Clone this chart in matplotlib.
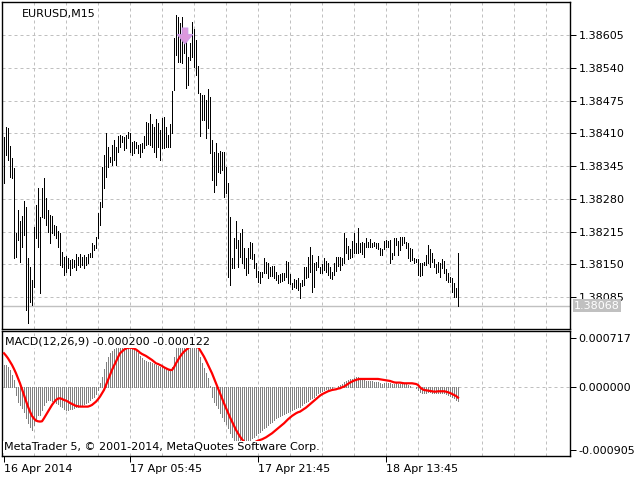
import numpy as np
import matplotlib
matplotlib.use("Agg")
import matplotlib.pyplot as plt
from matplotlib.transforms import blended_transform_factory

# ---------------- data ----------------
symbol_label = "EURUSD,M15"
macd_label = "MACD(12,26,9) -0.000200 -0.000122"
copyright_label = "MetaTrader 5, \u00a9 2001-2014, MetaQuotes Software Corp."

high = [1.38403, 1.38422, 1.38420, 1.38385, 1.38361, 1.38341, 1.38212, 1.38258, 1.38236, 1.38246,
        1.38276, 1.38264, 1.38162, 1.38145, 1.38119, 1.38224, 1.38268, 1.38301, 1.38244, 1.38301,
        1.38321, 1.38282, 1.38258, 1.38248, 1.38246, 1.38228, 1.38226, 1.38216, 1.38212, 1.38174,
        1.38164, 1.38166, 1.38162, 1.38158, 1.38160, 1.38158, 1.38170, 1.38164, 1.38170, 1.38164,
        1.38168, 1.38164, 1.38170, 1.38172, 1.38192, 1.38188, 1.38204, 1.38252, 1.38274, 1.38343,
        1.38367, 1.38411, 1.38383, 1.38363, 1.38387, 1.38397, 1.38383, 1.38405, 1.38407, 1.38405,
        1.38403, 1.38407, 1.38412, 1.38411, 1.38393, 1.38395, 1.38393, 1.38387, 1.38389, 1.38391,
        1.38405, 1.38432, 1.38430, 1.38448, 1.38428, 1.38422, 1.38438, 1.38430, 1.38416, 1.38440,
        1.38442, 1.38422, 1.38407, 1.38428, 1.38494, 1.38599, 1.38645, 1.38641, 1.38629, 1.38641,
        1.38611, 1.38599, 1.38561, 1.38589, 1.38631, 1.38617, 1.38595, 1.38543, 1.38490, 1.38486,
        1.38486, 1.38476, 1.38498, 1.38482, 1.38397, 1.38373, 1.38391, 1.38371, 1.38375, 1.38373,
        1.38373, 1.38343, 1.38311, 1.38244, 1.38162, 1.38202, 1.38236, 1.38198, 1.38212, 1.38220,
        1.38182, 1.38162, 1.38182, 1.38194, 1.38192, 1.38170, 1.38153, 1.38137, 1.38135, 1.38135,
        1.38162, 1.38155, 1.38153, 1.38145, 1.38147, 1.38147, 1.38135, 1.38129, 1.38131, 1.38133,
        1.38133, 1.38157, 1.38155, 1.38131, 1.38113, 1.38121, 1.38119, 1.38123, 1.38113, 1.38119,
        1.38145, 1.38145, 1.38164, 1.38184, 1.38168, 1.38153, 1.38155, 1.38166, 1.38145, 1.38151,
        1.38162, 1.38156, 1.38153, 1.38145, 1.38135, 1.38153, 1.38164, 1.38164, 1.38164, 1.38162,
        1.38212, 1.38202, 1.38186, 1.38180, 1.38196, 1.38212, 1.38192, 1.38222, 1.38192, 1.38194,
        1.38192, 1.38202, 1.38194, 1.38200, 1.38192, 1.38194, 1.38192, 1.38192, 1.38182, 1.38180,
        1.38196, 1.38198, 1.38196, 1.38198, 1.38172, 1.38202, 1.38202, 1.38196, 1.38204, 1.38204,
        1.38204, 1.38194, 1.38192, 1.38182, 1.38180, 1.38162, 1.38160, 1.38160, 1.38153, 1.38153,
        1.38155, 1.38168, 1.38188, 1.38180, 1.38172, 1.38160, 1.38151, 1.38155, 1.38153, 1.38160,
        1.38156, 1.38141, 1.38133, 1.38125, 1.38123, 1.38113, 1.38103, 1.38172]

low = [1.38311, 1.38367, 1.38357, 1.38323, 1.38321, 1.38162, 1.38164, 1.38198, 1.38154, 1.38184,
       1.38208, 1.38059, 1.38033, 1.38075, 1.38069, 1.38105, 1.38202, 1.38184, 1.38093, 1.38244,
       1.38242, 1.38228, 1.38214, 1.38192, 1.38212, 1.38208, 1.38202, 1.38184, 1.38149, 1.38145,
       1.38129, 1.38135, 1.38143, 1.38129, 1.38143, 1.38145, 1.38139, 1.38149, 1.38145, 1.38149,
       1.38143, 1.38149, 1.38153, 1.38164, 1.38164, 1.38178, 1.38182, 1.38202, 1.38228, 1.38264,
       1.38301, 1.38323, 1.38343, 1.38353, 1.38347, 1.38357, 1.38347, 1.38373, 1.38383, 1.38393,
       1.38377, 1.38381, 1.38401, 1.38373, 1.38367, 1.38371, 1.38381, 1.38371, 1.38363, 1.38373,
       1.38381, 1.38387, 1.38389, 1.38387, 1.38383, 1.38373, 1.38363, 1.38383, 1.38357, 1.38381,
       1.38381, 1.38383, 1.38383, 1.38383, 1.38411, 1.38496, 1.38565, 1.38551, 1.38551, 1.38549,
       1.38569, 1.38500, 1.38506, 1.38555, 1.38561, 1.38541, 1.38526, 1.38490, 1.38405, 1.38436,
       1.38436, 1.38401, 1.38420, 1.38371, 1.38317, 1.38293, 1.38307, 1.38333, 1.38331, 1.38337,
       1.38284, 1.38291, 1.38125, 1.38109, 1.38143, 1.38143, 1.38182, 1.38145, 1.38164, 1.38153,
       1.38143, 1.38129, 1.38133, 1.38162, 1.38160, 1.38143, 1.38125, 1.38115, 1.38113, 1.38125,
       1.38133, 1.38133, 1.38123, 1.38127, 1.38127, 1.38123, 1.38119, 1.38113, 1.38115, 1.38117,
       1.38119, 1.38125, 1.38113, 1.38111, 1.38101, 1.38105, 1.38103, 1.38099, 1.38083, 1.38107,
       1.38109, 1.38123, 1.38125, 1.38135, 1.38095, 1.38105, 1.38139, 1.38145, 1.38133, 1.38133,
       1.38139, 1.38135, 1.38129, 1.38123, 1.38121, 1.38129, 1.38137, 1.38147, 1.38139, 1.38149,
       1.38153, 1.38172, 1.38160, 1.38162, 1.38164, 1.38172, 1.38172, 1.38172, 1.38174, 1.38170,
       1.38164, 1.38184, 1.38184, 1.38184, 1.38184, 1.38186, 1.38182, 1.38180, 1.38168, 1.38168,
       1.38180, 1.38184, 1.38184, 1.38153, 1.38160, 1.38168, 1.38188, 1.38168, 1.38178, 1.38188,
       1.38192, 1.38182, 1.38162, 1.38156, 1.38158, 1.38153, 1.38154, 1.38129, 1.38127, 1.38129,
       1.38149, 1.38149, 1.38153, 1.38145, 1.38155, 1.38145, 1.38133, 1.38135, 1.38125, 1.38143,
       1.38133, 1.38119, 1.38115, 1.38115, 1.38095, 1.38085, 1.38085, 1.38068]

# MACD values in millionths
macd_main_e6 = [
    324, 324, 299, 251, 179, 106, -111, -208, -256, -304,
    -353, -449, -522, -580, -618, -546, -473, -401, -401, -328,
    -256, -208, -184, -184, -193, -208, -222, -242, -270, -290,
    -319, -328, -328, -319, -314, -304, -290, -280, -270, -256,
    -242, -222, -208, -184, -159, -135, -97, -39, 58, 155,
    261, 372, 444, 493, 531, 551, 580, 604, 618, 628,
    628, 618, 609, 589, 570, 556, 541, 493, 454, 420,
    396, 386, 372, 372, 357, 338, 324, 309, 299, 290,
    275, 261, 251, 242, 299, 444, 565, 638, 686, 705,
    715, 705, 686, 676, 686, 671, 628, 541, 444, 348,
    275, 203, 130, 19, -135, -208, -256, -304, -377, -435,
    -483, -531, -594, -667, -715, -763, -800, -850, -885, -905,
    -895, -860, -810, -765, -739, -715, -691, -667, -642, -618,
    -594, -570, -546, -522, -497, -473, -449, -435, -415, -401,
    -386, -367, -353, -338, -328, -319, -304, -290, -280, -256,
    -232, -208, -193, -174, -159, -135, -111, -87, -63, -48,
    -39, -29, -19, -14, -10, 3, 10, 19, 34, 48,
    82, 97, 106, 116, 126, 135, 145, 145, 130, 116,
    106, 97, 97, 92, 87, 82, 77, 72, 58, 48,
    58, 68, 68, 58, 43, 48, 58, 48, 48, 58,
    58, 48, 34, 19, 10, -2, -14, -39, -63, -77,
    -77, -77, -68, -68, -77, -77, -77, -77, -87, -87,
    -87, -97, -111, -126, -135, -159, -184, -200]

macd_signal_e6 = [
    493, 459, 420, 372, 324, 266, 203, 130, 58, -29,
    -111, -198, -280, -353, -415, -454, -483, -493, -497, -493,
    -449, -401, -353, -304, -256, -217, -184, -164, -159, -169,
    -184, -193, -208, -227, -242, -256, -270, -275, -280, -280,
    -280, -280, -280, -270, -256, -232, -208, -174, -135, -87,
    -39, 34, 106, 179, 251, 314, 372, 435, 493, 520,
    545, 562, 572, 575, 570, 560, 548, 527, 502, 483,
    469, 454, 435, 415, 396, 372, 348, 338, 324, 309,
    290, 275, 261, 251, 251, 290, 348, 396, 444, 483,
    517, 541, 565, 589, 609, 614, 609, 580, 541, 493,
    444, 386, 324, 261, 203, 130, 58, -14, -87, -159,
    -232, -300, -367, -435, -497, -560, -618, -667, -715, -754,
    -787, -811, -821, -821, -811, -802, -787, -773, -763, -754,
    -739, -725, -705, -686, -667, -642, -618, -594, -570, -546,
    -522, -493, -464, -440, -415, -396, -377, -362, -353, -333,
    -314, -295, -270, -246, -222, -193, -169, -145, -121, -101,
    -87, -72, -58, -48, -39, -34, -29, -19, -14, 0,
    10, 29, 48, 68, 82, 97, 106, 116, 121, 121,
    121, 121, 121, 121, 121, 121, 121, 121, 116, 111,
    106, 101, 97, 92, 82, 72, 68, 68, 68, 63,
    58, 58, 58, 58, 58, 53, 48, 34, 0, -24,
    -39, -43, -48, -53, -58, -63, -63, -58, -58, -58,
    -58, -63, -72, -82, -97, -111, -126, -150]

price_ticks = [1.38085, 1.38150, 1.38215, 1.38280, 1.38345, 1.38410, 1.38475, 1.38540, 1.38605]
last_price = 1.38068
macd_ticks = [0.000717, 0.0, -0.000905]
date_tick_bars = [0, 63, 127, 191]
date_labels = ["16 Apr 2014", "17 Apr 05:45", "17 Apr 21:45", "18 Apr 13:45"]
grid_bars = list(range(15, 284, 16))
arrow_bar = 90.5
arrow_tail = 1.38619
arrow_tip = 1.38587

# ---------------- drawing ----------------
macd_main = np.array(macd_main_e6) * 1e-6
macd_signal = np.array(macd_signal_e6) * 1e-6
x = np.arange(len(high))

W, H = 640, 480
fig = plt.figure(figsize=(6.4, 4.8), dpi=100)
fig.patch.set_facecolor("white")
ax = fig.add_axes([2 / W, 1 - 329 / H, 568 / W, 327 / H])
ax2 = fig.add_axes([2 / W, 1 - 456 / H, 568 / W, 125 / H])

grid_kw = dict(color="#c0c0c0", linestyle=(0, (3, 3)), linewidth=0.72)
px = 0.72

for a in (ax, ax2):
    a.set_xlim(-1, 283)
    a.set_axisbelow(True)
    for s in a.spines.values():
        s.set_color("black")
        s.set_linewidth(1.0)
    a.xaxis.remove_overlapping_locs = False
    a.set_xticks(grid_bars, minor=True)
    a.grid(which="minor", axis="x", **grid_kw)
    a.tick_params(which="minor", length=0)
    a.yaxis.tick_right()
    a.tick_params(axis="y", direction="out", length=4, width=px, labelsize=8,
                  pad=2, colors="black")

# price panel
ax.set_ylim(1.380215, 1.386705)
ax.vlines(x, low, high, color="black", linewidth=px, antialiased=False, zorder=3)
ax.axhline(last_price, color="#c0c0c0", linewidth=1.0, zorder=2)
ax.set_yticks(price_ticks)
ax.set_yticklabels([f"{p:.5f}" for p in price_ticks])
ax.grid(which="major", axis="y", **grid_kw)
ax.set_xticks([])
ax.annotate("", xy=(arrow_bar, arrow_tip), xytext=(arrow_bar, arrow_tail),
            arrowprops=dict(arrowstyle="simple,head_width=0.8,head_length=0.5,tail_width=0.3",
                            fc="#dd99dd", ec="#c89be8", lw=0.6, mutation_scale=14,
                            shrinkA=0, shrinkB=0), zorder=4)
tr = blended_transform_factory(ax.transAxes, ax.transData)
ax.text(1 + 4 / 568, last_price, f"{last_price:.5f}", transform=tr, ha="left", va="center",
        color="white", fontsize=8, clip_on=False, zorder=10,
        bbox=dict(boxstyle="square,pad=0.12", fc="#c0c0c0", ec="none"))
ax.text(20 / 568, 1 - 12 / 327, symbol_label, transform=ax.transAxes, ha="left",
        va="center", fontsize=8, color="black")

# MACD panel
ax2.set_ylim(-0.000996, 0.000816)
ax2.axhline(0, zorder=1, **grid_kw)
ax2.vlines(x, 0, macd_main, color="#808080", linewidth=px, antialiased=False, zorder=2)
ax2.plot(x, macd_signal, color="#ff0000", linewidth=1.6, zorder=3,
         solid_joinstyle="round")
ax2.set_yticks(macd_ticks)
ax2.set_yticklabels([f"{v:.6f}" for v in macd_ticks])
ax2.set_xticks(date_tick_bars)
ax2.set_xticklabels(date_labels, ha="left", fontsize=8)
ax2.tick_params(axis="x", which="major", direction="out", length=4, width=px, pad=2)
ax2.text(3 / 568, 1 - 11 / 125, macd_label, transform=ax2.transAxes, ha="left",
         va="center", fontsize=8, color="black", zorder=6,
         bbox=dict(boxstyle="square,pad=0.05", fc="white", ec="none"))
ax2.text(2 / 568, 1 - 116 / 125, copyright_label, transform=ax2.transAxes, ha="left",
         va="center", fontsize=8, color="black", zorder=6,
         bbox=dict(boxstyle="square,pad=0.05", fc="white", ec="none"))

fig.savefig("out.png", dpi=100, facecolor="white")
